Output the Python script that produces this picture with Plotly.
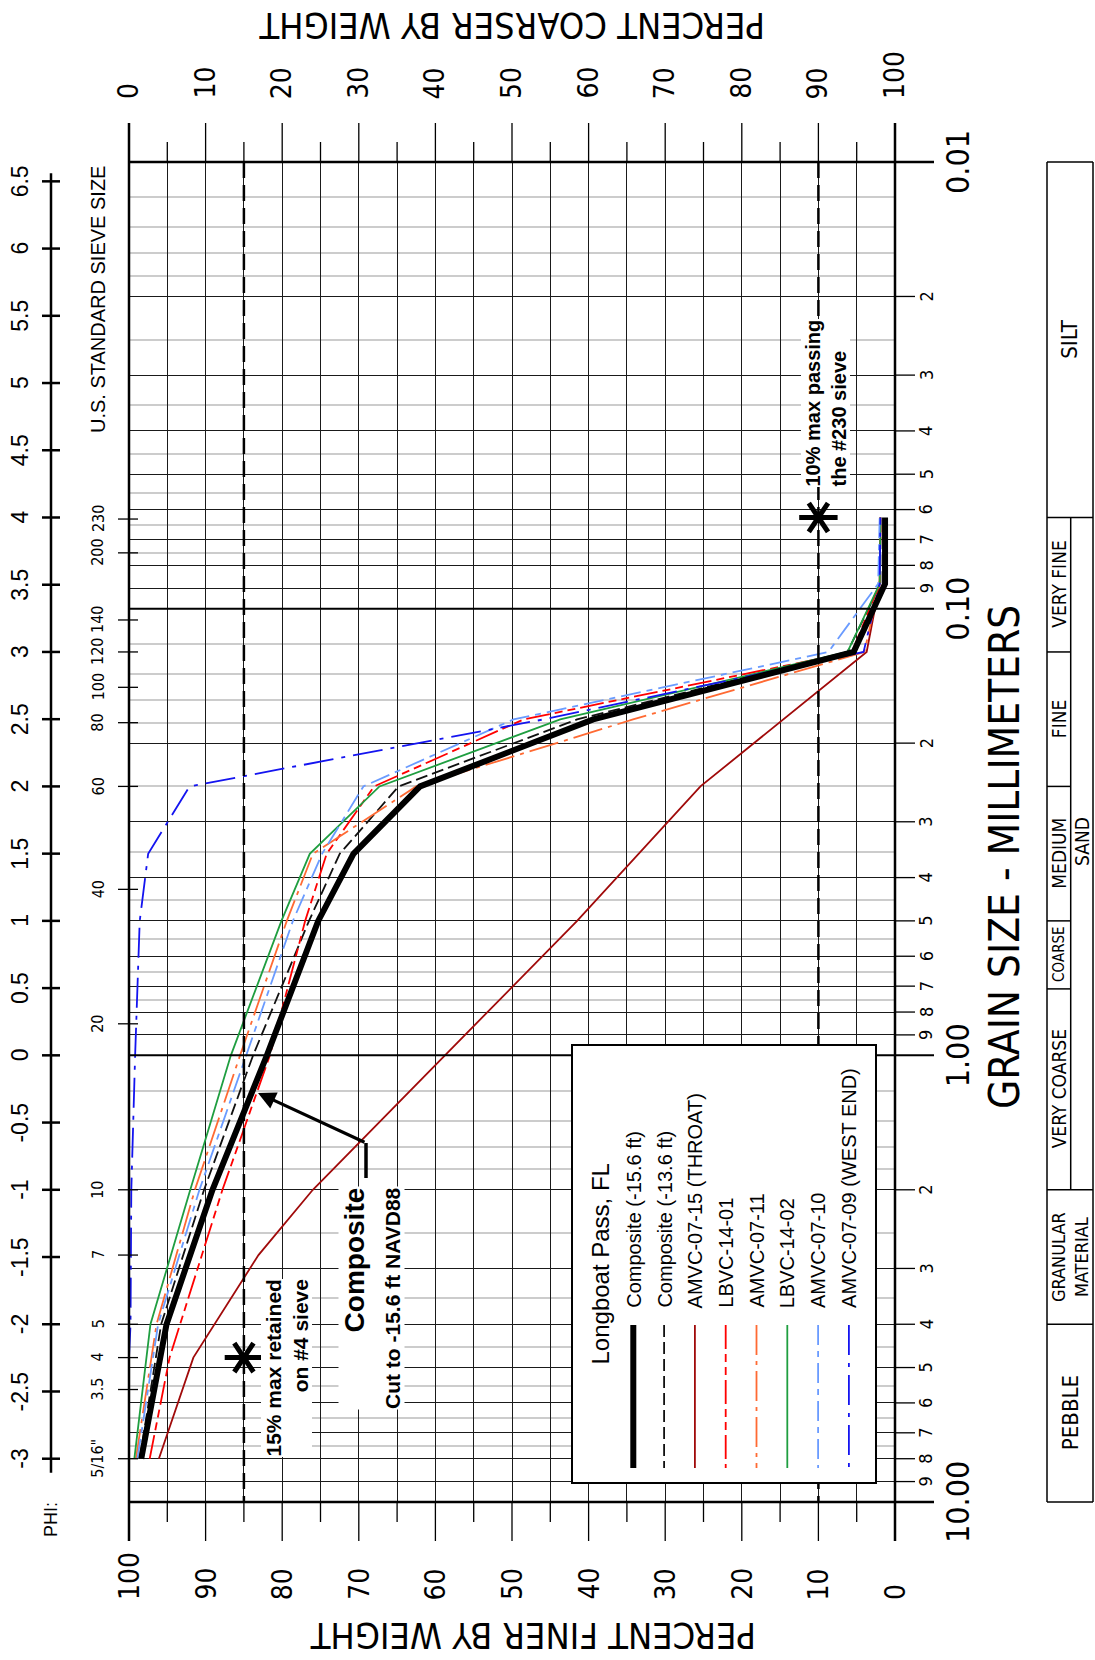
import math
import plotly.graph_objects as go

# ---------------- data ----------------
SIZES_STD = [8.0, 4.0, 2.0, 1.0, 0.5, 0.354, 0.25, 0.177, 0.125, 0.088, 0.0625]
COMP_156 = [98.4, 95.1, 89.1, 82.0, 75.3, 70.7, 62.0, 39.4, 5.4, 1.3, 1.3]
COMP_136 = [98.6, 95.8, 90.2, 83.8, 76.5, 72.5, 64.8, 41.5, 6.2, 1.9, 1.9]
LBVC_14_02 = [99.3, 97.2, 92.0, 86.7, 80.1, 76.4, 67.3, 43.7, 6.2, 2.0, 1.9]
AMVC_07_11 = [99.1, 96.4, 91.4, 85.5, 79.4, 76.0, 62.5, 34.2, 4.0, 2.0, 1.9]
AMVC_07_10 = [98.9, 96.2, 90.8, 84.7, 78.6, 74.8, 69.4, 49.8, 8.7, 2.2, 2.0]
SIZES_LBVC_14_01 = [8.0, 4.75, 2.0, 1.0, 0.5, 0.354, 0.25, 0.177, 0.125, 0.088, 0.0625]
LBVC_14_01 = [97.3, 94.7, 87.8, 81.6, 77.0, 74.2, 68.0, 48.5, 5.6, 2.0, 1.9]
SIZES_AMVC_07_15 = [8.0, 4.75, 2.8, 2.0, 0.5, 0.25, 0.125, 0.088, 0.0625]
AMVC_07_15 = [96.1, 91.6, 83.1, 76.0, 41.5, 25.4, 3.7, 2.0, 1.9]
SIZES_AMVC_07_09 = [4.75, 4.0, 2.0, 1.0, 0.5, 0.354, 0.25, 0.177, 0.125, 0.088, 0.0625]
AMVC_07_09 = [100.0, 99.8, 99.7, 99.2, 98.6, 97.5, 92.1, 45.9, 4.1, 2.0, 1.9]

SIEVE_NAMES = ['5/16"', '3.5', '4', '5', '7', '10', '20', '40', '60', '80', '100', '120', '140', '200', '230']
SIEVE_MM = [8.0, 5.6, 4.75, 4.0, 2.8, 2.0, 0.85, 0.425, 0.25, 0.18, 0.15, 0.125, 0.106, 0.075, 0.063]
PHI_TICKS = [-3, -2.5, -2, -1.5, -1, -0.5, 0, 0.5, 1, 1.5, 2, 2.5, 3, 3.5, 4, 4.5, 5, 5.5, 6, 6.5]
PCT_TICKS = [0, 10, 20, 30, 40, 50, 60, 70, 80, 90, 100]
MM_DECADES = [0.01, 0.1, 1.0, 10.0]
MM_DECADE_LABELS = ['0.01', '0.10', '1.00', '10.00']
MM_MULTS = [2, 3, 4, 5, 6, 7, 8, 9]
MM_MINOR_MULTS = [1.2, 1.4, 1.6, 1.8, 2.5, 3.5, 4.5, 5.5, 6.5, 7.5]
CLASS_BOUNDS = [0.0625, 0.125, 0.25, 0.5, 0.71, 2.0, 4.0]

SERIES = [
    ("Composite (-13.6 ft)", SIZES_STD, COMP_136, "#111111", 1.8, "12px,5px"),
    ("AMVC-07-15 (THROAT)", SIZES_AMVC_07_15, AMVC_07_15, "#A00A0A", 1.8, "solid"),
    ("LBVC-14-01", SIZES_LBVC_14_01, LBVC_14_01, "#FF0000", 1.8, "24px,5px,8px,5px,8px,5px"),
    ("AMVC-07-11", SIZES_STD, AMVC_07_11, "#FF6A33", 1.8, "30px,6px,4px,6px"),
    ("LBVC-14-02", SIZES_STD, LBVC_14_02, "#1F9E40", 1.8, "solid"),
    ("AMVC-07-10", SIZES_STD, AMVC_07_10, "#6A9BFF", 1.8, "20px,6px,6px,6px"),
    ("AMVC-07-09 (WEST END)", SIZES_AMVC_07_09, AMVC_07_09, "#1414F0", 1.8, "30px,8px,4px,8px"),
    ("Composite (-15.6 ft)", SIZES_STD, COMP_156, "#000000", 6, "solid"),
]
LEGEND_ORDER = ["Composite (-15.6 ft)", "Composite (-13.6 ft)", "AMVC-07-15 (THROAT)", "LBVC-14-01",
                "AMVC-07-11", "LBVC-14-02", "AMVC-07-10", "AMVC-07-09 (WEST END)"]

# ---------------- geometry ----------------
FW, FH = 1095, 1660
L, R, T, B = 129, 895, 162, 1502
W, H = R - L, B - T
ARIAL = "Liberation Sans, Arial, sans-serif"
NARROW = "Liberation Sans Narrow, Arial Narrow, DejaVu Sans Condensed, sans-serif"


def xp(px):
    return (px - L) / W


def yp(py):
    return (B - py) / H


def px_pct(p):
    return L + (100 - p) / 100 * W


def py_mm(d):
    return B + (math.log10(d) - 1) / 3 * H


fig = go.Figure()

for name, sx, sy, col, wd, dash in SERIES:
    fig.add_trace(go.Scatter(x=sy, y=sx, mode="lines", name=name, showlegend=False,
                             line=dict(color=col, width=wd, dash=dash, shape="linear")))

# asterisks (limit markers)
for sym in ["y-up-open", "y-down-open"]:
    fig.add_trace(go.Scatter(x=[10, 85], y=[0.0625, 4.75], mode="markers", showlegend=False,
                             cliponaxis=False,
                             marker=dict(symbol=sym, size=24, color="black", angle=90,
                                         line=dict(color="black", width=5))))

shapes = []


def line(x0, y0, x1, y1, color="black", width=1, dash="solid", layer="above"):
    shapes.append(dict(type="line", xref="paper", yref="paper", x0=xp(x0), y0=yp(y0), x1=xp(x1), y1=yp(y1),
                       line=dict(color=color, width=width, dash=dash), layer=layer))


anns = []


def text(t, x, y, size, family=ARIAL, angle=-90, xanchor="center", yanchor="middle", align="center",
         bg=None, color="black"):
    d = dict(text=t, x=xp(x), y=yp(y), xref="paper", yref="paper", showarrow=False, textangle=angle,
             xanchor=xanchor, yanchor=yanchor, align=align, font=dict(size=size, family=family, color=color))
    if bg:
        d["bgcolor"] = bg
        d["borderpad"] = 0
    anns.append(d)


# percent ticks top & bottom
for p in range(0, 101, 5):
    x = px_pct(p)
    long_ = p % 10 == 0
    line(x, T - (39 if long_ else 20), x, T, width=1.3)
    line(x, B, x, B + (39 if long_ else 20), width=1.3)
# borders
line(L, T - 39, L, B + 39, width=2.5)
line(R, T - 39, R, B + 39, width=2.5)
# decade lines extended right
for d in MM_DECADES:
    y = py_mm(d)
    line(L, y, 934, y, width=2.5 if d in (0.01, 10.0) else 2)
# minor right ticks
for dec in MM_DECADES[:-1]:
    for m in MM_MULTS:
        y = py_mm(dec * m)
        line(R, y, 915, y, width=1.3)
        text(str(m), 926, y, 18, family=NARROW)
for d, lab in zip(MM_DECADES, MM_DECADE_LABELS):
    text(lab, 958, py_mm(d), 32, family=NARROW)

# limit lines
line(px_pct(85), T, px_pct(85), B, width=2.5, dash="16px,7px")
line(px_pct(10), T, px_pct(10), B, width=2.5, dash="16px,7px")

# sieve ticks & labels
for nm, mm in zip(SIEVE_NAMES, SIEVE_MM):
    y = py_mm(mm)
    line(118, y, 138, y, width=1.3)
    text(nm, 98, y, 16, family=NARROW)
text("U.S. STANDARD SIEVE SIZE", 98, 300, 20)

# phi axis
line(51, py_mm(2 ** -6.5) - 8, 51, py_mm(8) + 14, width=2.5)
for ph in PHI_TICKS:
    y = py_mm(2 ** (-ph))
    line(42, y, 60, y, width=2.5)
    text("%g" % ph, 20, y, 23)
text("PHI:", 51, 1520, 18)

# percent labels
for p in PCT_TICKS:
    text(str(p), px_pct(100 - p), 101, 28, family=NARROW, yanchor="bottom")
    text(str(p), px_pct(p), 1602, 28, family=NARROW, yanchor="bottom")
text("PERCENT COARSER BY WEIGHT", 512, 26, 36, family=NARROW, angle=180)
text("PERCENT FINER BY WEIGHT", 533, 1636, 36, family=NARROW, angle=180)
text("GRAIN SIZE - MILLIMETERS", 1004, 857, 42, family=NARROW)

# classification table
TX0, TX1, TXM = 1047, 1093, 1070.7
line(TX0, T, TX1, T, width=1.5)
line(TX0, B, TX1, B, width=1.5)
line(TX0, T, TX0, B, width=1.5)
line(TX1, T, TX1, B, width=1.5)
for bnd in CLASS_BOUNDS:
    y = py_mm(bnd)
    full = bnd in (0.0625, 2.0, 4.0)
    line(TX0, y, TX1 if full else TXM, y, width=1.5)
line(TXM, py_mm(0.0625), TXM, py_mm(2.0), width=1.5)
text("SILT", 1070, (T + py_mm(0.0625)) / 2, 22, family=NARROW)
text("VERY FINE", 1059, (py_mm(0.0625) + py_mm(0.125)) / 2, 19, family=NARROW)
text("FINE", 1059, (py_mm(0.125) + py_mm(0.25)) / 2, 19, family=NARROW)
text("MEDIUM", 1059, (py_mm(0.25) + py_mm(0.5)) / 2, 19, family=NARROW)
text("COARSE", 1059, (py_mm(0.5) + py_mm(0.71)) / 2, 15, family=NARROW)
text("VERY COARSE", 1059, (py_mm(0.71) + py_mm(2.0)) / 2, 19, family=NARROW)
text("SAND", 1082, 842, 19, family=NARROW)
text("GRANULAR<br>MATERIAL", 1070, (py_mm(2.0) + py_mm(4.0)) / 2, 18, family=NARROW)
text("PEBBLE", 1070, (py_mm(4.0) + B) / 2, 22, family=NARROW)

# legend box
shapes.append(dict(type="rect", xref="paper", yref="paper", x0=xp(572), x1=xp(876), y0=yp(1045), y1=yp(1483),
                   line=dict(color="black", width=2), fillcolor="white", layer="above"))
text("Longboat Pass, FL", 600, 1367, 24, yanchor="bottom")
style = {s[0]: s for s in SERIES}
for i, nm in enumerate(LEGEND_ORDER):
    cx = 633.3 + i * 30.8
    _, _, _, col, wd, dash = style[nm]
    line(cx, 1325, cx, 1468, color=col, width=wd, dash=dash)
    text(nm, cx, 1310, 20, yanchor="bottom")

# notes
text("<b>10% max passing</b><br><b>the #230 sieve</b>", 825, 488, 20, yanchor="bottom", align="left", bg="white")
text("<b>15% max retained</b><br><b>on #4 sieve</b>", 286, 1458, 21, yanchor="bottom", align="right", bg="white")
text("<b>Composite</b><br><b><span style='font-size:21px'>Cut to -15.6 ft NAVD88</span></b>", 371, 1410, 28,
     yanchor="bottom", align="right", bg="white")
line(366, 1143, 366, 1178, width=3.5)
anns.append(dict(x=xp(258), y=yp(1093), xref="paper", yref="paper", text="", showarrow=True,
                 ax=108, ay=50, arrowhead=2, arrowsize=1.1, arrowwidth=3.2, arrowcolor="black", standoff=0))

fig.update_layout(
    width=FW, height=FH, margin=dict(l=L, r=FW - R, t=T, b=FH - B),
    paper_bgcolor="white", plot_bgcolor="white", showlegend=False,
    shapes=shapes, annotations=anns,
    xaxis=dict(range=[100, 0], tickvals=list(range(0, 101, 5)), showgrid=True, gridcolor="#1a1a1a",
               gridwidth=1, showticklabels=False, ticks="", zeroline=False, showline=False),
    yaxis=dict(type="log", range=[1, -2],
               tickvals=[d * m for d in MM_DECADES[:-1] for m in MM_MULTS],
               showgrid=True, gridcolor="#1a1a1a", gridwidth=1, showticklabels=False, ticks="",
               zeroline=False, showline=False,
               minor=dict(tickvals=[d * m for d in MM_DECADES[:-1] for m in MM_MINOR_MULTS],
                          showgrid=True, gridcolor="#cccccc", gridwidth=2, ticks="")),
)

fig.write_html("out.html")
